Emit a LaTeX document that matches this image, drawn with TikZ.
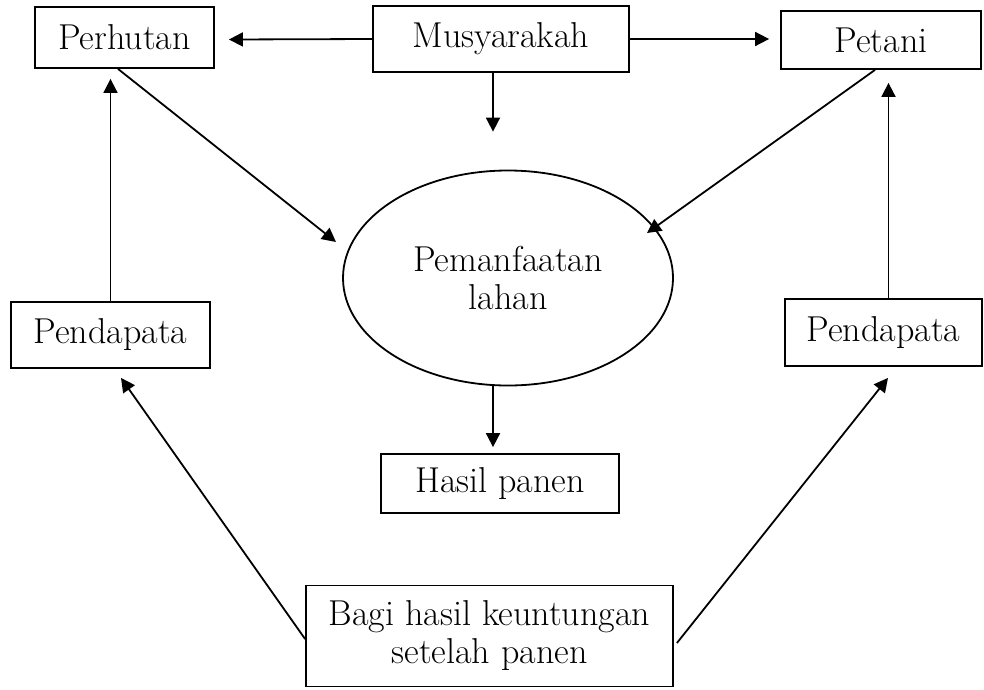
\documentclass[tikz,border=0pt]{standalone}
\usetikzlibrary{arrows.meta,calc,shapes.geometric}
\begin{document}
\begin{tikzpicture}[x=1pt,y=-1pt,
  every node/.style={font=\fontsize{36}{38}\selectfont, inner sep=0pt},
  boxnode/.style={draw, line width=1.8pt, rectangle},
  ellnode/.style={draw, line width=1.8pt, ellipse, align=center},
  arr/.style={line width=1.8pt, -{Triangle[length=14pt,width=14pt]}}]
\useasboundingbox (0,0) rectangle (984,689);

\node[boxnode, minimum width=179pt, minimum height=61pt] (perhutan) at (124.5,37.5) {Perhutan};
\node[boxnode, minimum width=256pt, minimum height=66pt] (musy) at (501,39) {Musyarakah};
\node[boxnode, minimum width=200pt, minimum height=58pt] (petani) at (881,40) {Petani};
\node[ellnode, minimum width=330pt, minimum height=215pt] (pem) at (508,278) {Pemanfaatan\\lahan};
\node[boxnode, minimum width=199pt, minimum height=66pt] (pendL) at (110.5,335) {Pendapata};
\node[boxnode, minimum width=197pt, minimum height=67pt] (pendR) at (883.5,332.5) {Pendapata};
\node[boxnode, minimum width=238pt, minimum height=59pt] (hasil) at (500,483.5) {Hasil panen};
\node[boxnode, minimum width=367pt, minimum height=101pt, align=center] (bagi) at (489.5,636) {Bagi hasil keuntungan\\setelah panen};

\draw[arr] (musy.west) -- ($(perhutan.east)+(14,2)$);
\draw[arr] (musy.east) -- ($(petani.west)+(-11,-1)$);
\draw[arr] ($(musy.south)+(-8,0)$) -- ($(pem.north)+(-15,-38)$);
\draw[arr] ($(perhutan.south)+(-6.5,0)$) -- ($(pem.center)+(-172,-36)$);
\draw[arr] ($(petani.south)+(-6,0)$) -- ($(pem.center)+(139,-45)$);
\draw[arr, shorten >=10pt] (pendL.north) -- (pendL.north |- perhutan.south);
\draw[arr, shorten >=13pt] ($(pendR.north)+(5,0)$) coordinate (pr) -- (pr |- petani.south);
\draw[arr, shorten >=6pt] ($(pem.south)+(-15,0)$) coordinate (ps) -- (ps |- hasil.north);
\draw[arr] ($(bagi.west)+(0,3)$) -- ($(pendL.south)+(10.5,9)$);
\draw[arr] ($(bagi.east)+(3,7)$) -- ($(pendR.south)+(4.5,11)$);
\end{tikzpicture}
\end{document}
